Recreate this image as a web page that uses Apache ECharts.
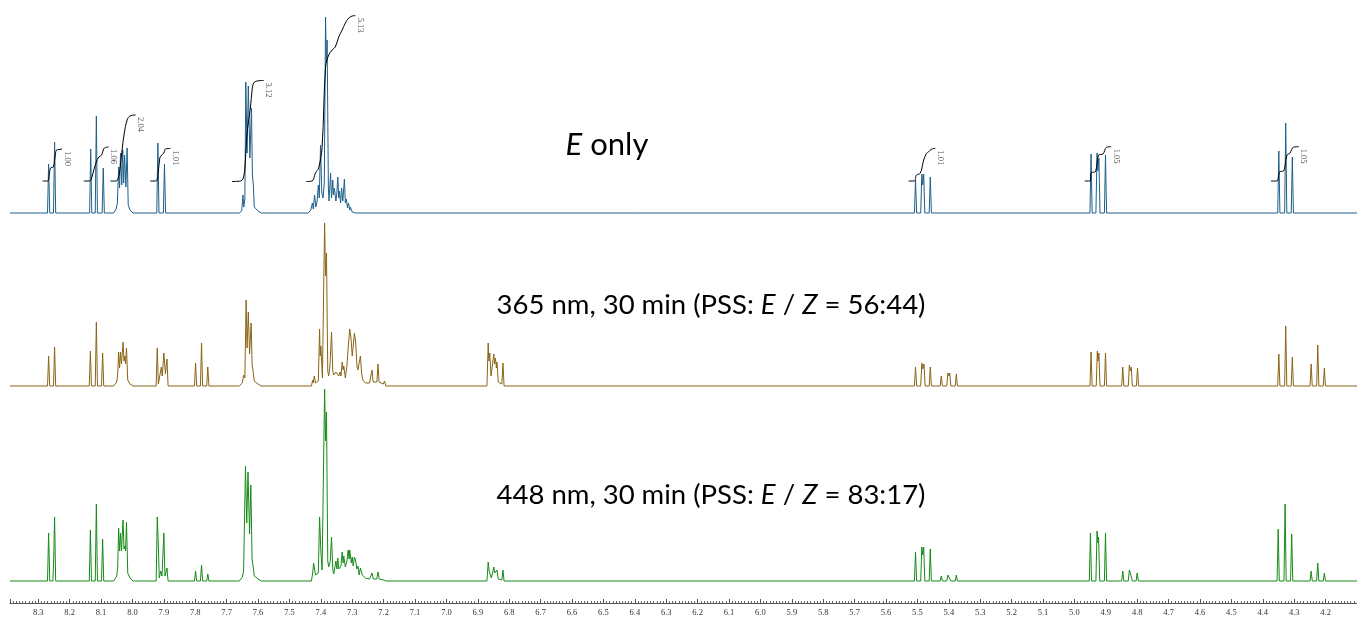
<!DOCTYPE html>
<html><head><meta charset="utf-8">
<script src="https://cdn.jsdelivr.net/npm/echarts@6/dist/echarts.min.js"></script>
<style>html,body{margin:0;padding:0;background:#fff}#c{width:1357px;height:619px}</style>
</head><body><div id="c"></div>
<script>
// ppm axis range and tick step
const ppmMin = 4.10, ppmMax = 8.39, ppmStep = 0.1;

// spectrum vertices [ppm, relative intensity]
const specE = [
[8.39,0],
[8.2705,0],[8.267,49],[8.2635,0],[8.2515,0],[8.248,71],[8.2445,0],
[8.1365,0],[8.133,64],[8.1295,0],[8.1185,0],[8.115,97],[8.1115,0],[8.0965,0],[8.093,45],[8.0895,0],
[8.060,0],[8.052,4],[8.048,10],[8.044,46],[8.041,25],[8.038,60],[8.034,28],[8.031,63],[8.028,30],[8.025,58],[8.021,26],[8.017,65],[8.0135,8],[8.008,3],[7.998,0],
[7.9225,0],[7.919,70],[7.9155,0],[7.9015,0],[7.898,49],[7.8945,0],
[7.66,0],[7.652,2],[7.6495,4],[7.648,18],[7.6455,6],[7.642,14],[7.639,131],[7.635,60],[7.631,127],[7.626,55],[7.621,105],[7.618,38],[7.615,28],[7.612,6],[7.60,2],[7.59,0],
[7.44,0],[7.432,3],[7.427,10],[7.424,4],[7.42,18],[7.416,6],[7.412,12],[7.408,28],[7.405,15],[7.401,68],[7.397,20],[7.393,15],[7.389,30],[7.385,196],[7.3825,150],[7.380,173],[7.376,25],[7.374,12],[7.369,40],[7.366,15],[7.362,33],[7.36,18],[7.357,25],[7.352,12],[7.349,20],[7.346,36],[7.343,15],[7.341,22],[7.337,10],[7.334,25],[7.330,12],[7.325,34],[7.322,10],[7.319,14],[7.315,5],[7.312,10],[7.308,3],[7.306,6],[7.30,1],[7.29,0],
[5.5095,0],[5.506,33],[5.5025,0],[5.4895,0],[5.486,39],[5.483,28],[5.480,39],[5.4765,0],[5.4625,0],[5.459,36],[5.4555,0],
[4.9505,0],[4.947,59],[4.9435,0],[4.9315,0],[4.928,60],[4.925,42],[4.922,55],[4.9185,0],[4.9045,0],[4.901,58],[4.8975,0],
[4.3525,0],[4.349,62],[4.3455,0],[4.3305,0],[4.327,90],[4.3235,0],[4.3095,0],[4.306,56],[4.3025,0],
[4.10,0]
];

const spec365 = [
[8.39,0],
[8.2705,0],[8.267,30],[8.2635,0],[8.2515,0],[8.248,39],[8.2445,0],
[8.1375,0],[8.134,35],[8.1305,0],[8.1185,0],[8.115,64],[8.1115,0],[8.0985,0],[8.095,33],[8.0915,0],
[8.06,0],[8.05,4],[8.047,12],[8.044,34],[8.041,18],[8.038,34],[8.035,22],[8.030,44],[8.027,25],[8.024,30],[8.022,22],[8.019,38],[8.015,6],[8.008,2],[7.998,0],
[7.9245,0],[7.921,38],[7.9175,2],[7.9115,2],[7.908,19],[7.905,10],[7.900,33],[7.895,12],[7.890,27],[7.8865,0],
[7.8025,0],[7.799,23],[7.7955,0],[7.7835,0],[7.780,43],[7.7765,0],[7.7635,0],[7.760,19],[7.7565,0],
[7.66,0],[7.65,3],[7.646,11],[7.642,8],[7.638,86],[7.635,38],[7.631,74],[7.627,32],[7.622,63],[7.619,22],[7.616,15],[7.612,5],[7.60,2],[7.59,0],
[7.43,0],[7.426,6],[7.424,3],[7.421,10],[7.417,3],[7.408,5],[7.404,57],[7.402,30],[7.400,40],[7.395,8],[7.388,163],[7.385,110],[7.382,133],[7.378,15],[7.375,10],[7.371,20],[7.366,54],[7.362,15],[7.359,11],[7.352,14],[7.346,16],[7.343,10],[7.339,14],[7.336,10],[7.332,24],[7.329,16],[7.327,20],[7.322,8],[7.317,20],[7.313,38],[7.308,57],[7.304,48],[7.300,30],[7.298,30],[7.293,53],[7.289,43],[7.285,20],[7.282,16],[7.274,30],[7.270,12],[7.266,6],[7.258,3],[7.245,3],
[7.241,2],[7.237,16],[7.2335,4],[7.229,5],[7.2215,4],[7.218,22],[7.2145,4],[7.210,3],[7.201,2],[7.197,5],[7.193,0],
[6.871,0],[6.867,43],[6.865,25],[6.862,33],[6.858,10],[6.855,8],[6.852,10],[6.849,32],[6.847,22],[6.844,28],[6.841,18],[6.839,24],[6.835,4],[6.831,2],[6.8235,2],[6.820,23],[6.8165,0],
[5.5095,0],[5.506,19],[5.5025,0],[5.4895,0],[5.486,23],[5.483,17],[5.479,22],[5.4755,0],[5.4625,0],[5.459,19],[5.4555,0],
[5.4275,0],[5.424,10],[5.4205,0],[5.4065,0],[5.403,13],[5.400,10],[5.397,13],[5.3935,0],[5.3795,0],[5.376,12],[5.3725,0],
[4.9505,0],[4.947,34],[4.9435,0],[4.9305,0],[4.927,35],[4.925,25],[4.922,33],[4.9185,0],[4.9045,0],[4.901,33],[4.8975,0],
[4.8495,0],[4.846,19],[4.8425,0],[4.8285,0],[4.825,21],[4.822,15],[4.819,19],[4.8155,0],[4.8025,0],[4.799,18],[4.7955,0],
[4.3525,0],[4.349,32],[4.3455,0],[4.3305,0],[4.327,60],[4.3235,0],[4.3095,0],[4.306,29],[4.3025,0],
[4.2495,0],[4.246,22],[4.2425,0],[4.2285,0],[4.225,41],[4.2215,0],[4.2075,0],[4.204,18],[4.2005,0],
[4.10,0]
];

const spec448 = [
[8.39,0],
[8.2705,0],[8.267,48],[8.2635,0],[8.2535,0],[8.251,20],[8.248,64],[8.2445,0],
[8.1375,0],[8.134,51],[8.1305,0],[8.1185,0],[8.115,77],[8.1115,0],[8.0985,0],[8.095,42],[8.0915,0],
[8.06,0],[8.05,5],[8.047,14],[8.044,53],[8.041,30],[8.038,48],[8.035,30],[8.030,61],[8.027,32],[8.024,35],[8.022,30],[8.019,59],[8.015,8],[8.008,3],[7.998,0],
[7.9245,0],[7.921,64],[7.918,40],[7.9145,3],[7.910,10],[7.906,5],[7.9035,3],[7.900,48],[7.8965,5],[7.890,13],[7.8865,0],
[7.8025,0],[7.799,10],[7.7955,0],[7.7835,0],[7.780,16],[7.7765,0],[7.7635,0],[7.760,7],[7.7565,0],
[7.66,0],[7.65,4],[7.646,10],[7.643,12],[7.640,115],[7.636,58],[7.632,109],[7.627,47],[7.623,96],[7.619,22],[7.615,13],[7.612,5],[7.60,2],[7.59,0],
[7.43,0],[7.426,8],[7.423,18],[7.417,6],[7.408,8],[7.404,64],[7.400,30],[7.396,11],[7.388,192],[7.385,140],[7.382,169],[7.378,20],[7.375,14],[7.370,20],[7.366,44],[7.362,12],[7.359,7],[7.352,20],[7.349,12],[7.346,23],[7.343,12],[7.340,12],[7.336,15],[7.332,29],[7.329,18],[7.327,25],[7.322,14],[7.317,20],[7.313,31],[7.310,22],[7.308,31],[7.303,18],[7.300,24],[7.297,15],[7.293,24],[7.289,20],[7.285,12],[7.282,15],[7.278,6],[7.274,13],[7.268,6],[7.258,3],[7.245,2],
[7.241,1],[7.237,8],[7.233,2],[7.222,2],[7.218,9],[7.214,2],[7.201,1],[7.197,3],[7.193,0],
[6.871,0],[6.867,19],[6.864,10],[6.862,12],[6.857,3],[6.853,3],[6.849,14],[6.846,8],[6.844,10],[6.8415,6],[6.839,11],[6.835,2],[6.8235,1],[6.820,11],[6.8165,0],
[5.5095,0],[5.506,29],[5.5025,0],[5.4895,0],[5.486,34],[5.483,26],[5.480,34],[5.4765,0],[5.4625,0],[5.459,32],[5.4555,0],
[5.4275,0],[5.424,5],[5.4205,0],[5.4065,0],[5.403,6],[5.400,5],[5.397,6],[5.3935,0],[5.3795,0],[5.376,6],[5.3725,0],
[4.9525,0],[4.949,48],[4.9455,0],[4.9315,0],[4.928,50],[4.925,38],[4.923,44],[4.9195,0],[4.9045,0],[4.901,48],[4.8975,0],
[4.8495,0],[4.846,10],[4.8425,0],[4.8285,0],[4.825,11],[4.822,8],[4.819,9],[4.8155,0],[4.8035,0],[4.800,8],[4.7965,0],
[4.3545,0],[4.351,52],[4.3475,0],[4.3325,0],[4.329,77],[4.3255,0],[4.3115,0],[4.308,47],[4.3045,0],
[4.2495,0],[4.246,10],[4.2425,0],[4.2285,0],[4.225,18],[4.2215,0],[4.2075,0],[4.204,8],[4.2005,0],
[4.10,0]
];

// integration curves of the E spectrum [ppm, level]
const integralCurves = [
 [[8.286,32],[8.270,32],[8.265,38],[8.261,45],[8.252,46],[8.247,55],[8.242,63],[8.234,63.5],[8.224,64]],
 [[8.155,32],[8.137,32],[8.130,35],[8.123,43],[8.115,51],[8.107,56],[8.098,58],[8.092,64],[8.086,65.5],[8.076,66]],
 [[8.070,32],[8.052,32],[8.045,35],[8.041,41],[8.033,63],[8.026,80],[8.017,93],[8.008,97],[7.990,98]],
 [[7.943,32],[7.925,32],[7.918,40],[7.913,55],[7.907,58],[7.900,60],[7.895,64],[7.879,64.5]],
 [[7.683,31.5],[7.656,32],[7.648,34],[7.642,45],[7.635,80],[7.624,106],[7.619,123],[7.614,130],[7.603,132],[7.582,132.5]],
 [[7.446,31.5],[7.428,32],[7.417,40],[7.407,45],[7.396,66],[7.385,146],[7.375,158],[7.364,163],[7.354,166],[7.343,176],[7.332,183],[7.322,190],[7.311,195],[7.300,197],[7.290,197.3]],
 [[5.528,32],[5.510,32],[5.503,38],[5.491,39.7],[5.480,53],[5.471,59.7],[5.464,61.3],[5.456,63.7],[5.443,64.7]],
 [[4.967,32],[4.951,32],[4.946,40.3],[4.933,41.3],[4.923,58],[4.909,59],[4.898,65.7],[4.883,66.3]],
 [[4.374,32],[4.355,32],[4.346,41.3],[4.334,42],[4.323,58],[4.314,59.7],[4.303,65.7],[4.286,66.3]]
];
const integralValues = ['1.00','1.06','2.04','1.01','3.12','5.13','1.01','1.05','1.05'];

const annotations = ['{i|E} only', '365 nm, 30 min (PSS: {i|E} / {i|Z} = 56:44)', '448 nm, 30 min (PSS: {i|E} / {i|Z} = 83:17)'];
const colors = ['#1d5f8a', '#8a6415', '#178a17'];

const chart = echarts.init(document.getElementById('c'), null, {renderer: 'canvas'});
const gridTops = [13, 186, 381];
const grids = gridTops.map(t => ({left: 10, right: 0, top: t, height: 200}));
const xAxes = gridTops.map((t, i) => ({
  type: 'value', gridIndex: i, min: ppmMin, max: ppmMax, interval: ppmStep, inverse: true,
  show: i === 2, offset: 22,
  axisLine: {show: true, onZero: false, lineStyle: {color: '#555', width: 1}},
  axisTick: {show: true, inside: true, length: 4, lineStyle: {color: '#555'}},
  minorTick: {show: true, splitNumber: 10, length: 2, lineStyle: {color: '#666'}},
  splitLine: {show: false}, minorSplitLine: {show: false},
  axisLabel: {show: true, showMinLabel: false, showMaxLabel: false, margin: 5,
    fontFamily: 'Liberation Serif', fontSize: 8.5, color: '#333',
    formatter: v => v.toFixed(1)}
}));
const yAxes = gridTops.map((t, i) => ({type: 'value', gridIndex: i, min: 0, max: 200, show: false}));

const specs = [specE, spec365, spec448];
const series = specs.map((d, i) => ({
  type: 'line', xAxisIndex: i, yAxisIndex: i, data: d, showSymbol: false, symbol: 'none',
  clip: false, silent: true, lineStyle: {color: colors[i], width: 1}
}));
integralCurves.forEach(c => series.push({
  type: 'line', xAxisIndex: 0, yAxisIndex: 0, data: c, symbol: 'none', smooth: 0.35,
  clip: false, silent: true, lineStyle: {color: '#000', width: 1}
}));
series.push({
  type: 'scatter', xAxisIndex: 0, yAxisIndex: 0, symbolSize: 0, silent: true, clip: false,
  data: integralCurves.map((c, i) => [c[c.length - 1][0], c[c.length - 1][1], integralValues[i]]),
  label: {show: true, formatter: p => p.data[2], position: [5, 2], rotate: -90,
    align: 'left', verticalAlign: 'middle', fontFamily: 'Liberation Serif', fontSize: 8.5, color: '#222'}
});

const annPos = [[607, 145], [711, 305], [711, 495]];
const annSize = [31, 27.5, 27.5];
const graphic = annotations.map((t, i) => ({
  type: 'text', x: annPos[i][0], y: annPos[i][1], silent: true,
  style: {text: t, fontFamily: 'Lato', fontSize: annSize[i], fill: '#000', align: 'center', verticalAlign: 'middle',
    rich: {i: {fontStyle: 'italic', fontFamily: 'Lato', fontSize: annSize[i], fill: '#000'}}}
}));

chart.setOption({animation: false, grid: grids, xAxis: xAxes, yAxis: yAxes, series, graphic});
</script></body></html>
